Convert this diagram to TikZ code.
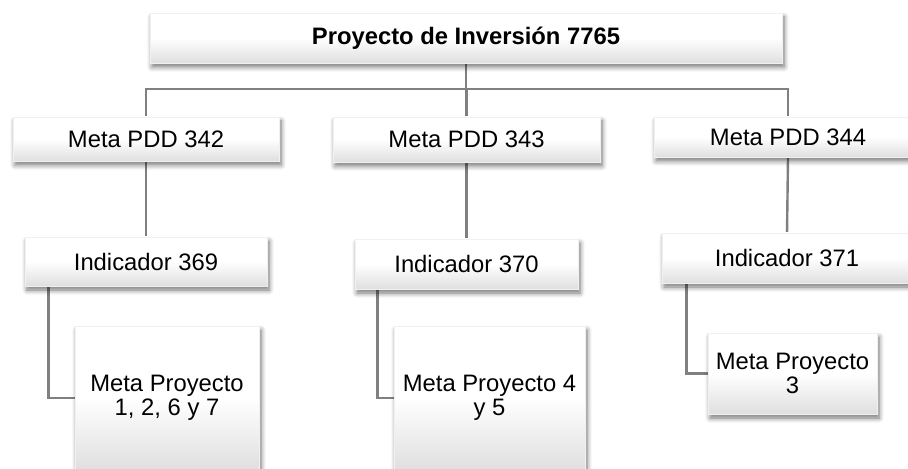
\documentclass[tikz,border=0pt]{standalone}
\usepackage{fontspec}
\setmainfont{Liberation Sans}
\usetikzlibrary{shadows.blur,backgrounds}

\begin{document}
\begin{tikzpicture}
    [ x=0.5pt, y=-0.5pt,
      goalBox/.style={draw=gray!12, top color=white, bottom color=gray!25, middle color=white,
                      align=center, inner sep=0pt,
                      blur shadow={shadow xshift=1pt, shadow yshift=-2pt, shadow opacity=55, shadow blur steps=6}},
      titleBox/.style={goalBox, font=\bfseries},
      treeLine/.style={draw=gray, line width=1.2pt}]

  \fontsize{11.9}{12.2}\selectfont%
  \useasboundingbox (0,0) rectangle (908,469);
  \clip (0,0) rectangle (908,469);

%%%%%%%%%%%%%%%%%%%%%%%%%%%%%%%%%%%%%%%%%%%%%%%%%%%%%%%%%%%%%%%%%%%%%%%%%%%%%%%%%%%%%%%%%%%%%%%%%%%%%%%%%%
%top level and goals

	  \node[titleBox, minimum width=316pt, minimum height=25pt] (proy) at (466,38) {Proyecto de Inversión 7765};

	  \node[goalBox, minimum width=133pt, minimum height=22pt] (m342) at (146,139) {Meta PDD 342};
	  \node[goalBox, minimum width=133.5pt, minimum height=22.5pt] (m343) at (466.5,139.5) {Meta PDD 343};
	  \node[goalBox, minimum width=134pt, minimum height=20pt] (m344) at (788,137) {Meta PDD 344};

	  \coordinate (bar) at (0,89);

%%%%%%%%%%%%%%%%%%%%%%%%%%%%%%%%%%%%%%%%%%%%%%%%%%%%%%%%%%%%%%%%%%%%%%%%%%%%%%%%%%%%%%%%%%%%%%%%%%%%%%%%%%
%indicators and project goals

	  \node[goalBox, minimum width=121pt, minimum height=24.5pt] (i369) at (146,261.5) {Indicador 369};
	  \node[goalBox, minimum width=111.5pt, minimum height=25pt] (i370) at (466.5,264) {Indicador 370};
	  \node[goalBox, minimum width=125pt, minimum height=25pt] (i371) at (787,258) {Indicador 371};

	  \node[goalBox, minimum width=92pt, minimum height=72pt] (mp1) at (167,398) {Meta Proyecto\\1, 2, 6 y 7};
	  \node[goalBox, minimum width=95.5pt, minimum height=72pt] (mp2) at (489.5,398) {Meta Proyecto 4\\y 5};
	  \node[goalBox, minimum width=84.5pt, minimum height=40.5pt] (mp3) at (792.5,373.5) {Meta Proyecto\\3};

%%%%%%%%%%%%%%%%%%%%%%%%%%%%%%%%%%%%%%%%%%%%%%%%%%%%%%%%%%%%%%%%%%%%%%%%%%%%%%%%%%%%%%%%%%%%%%%%%%%%%%%%%%
%tree lines
  \begin{pgfonlayer}{background}
	  \draw[treeLine] (proy.south) -- (proy.south |- bar);
	  \draw[treeLine] (m342.north) -- (m342.north |- bar) -| (m344.north);
	  \draw[treeLine] (m343.north) -- (m343.north |- bar);

	  \draw[treeLine] (m342.south) -- (i369.north);
	  \draw[treeLine] (m343.south) -- (i370.north);
	  \draw[treeLine] (m344.south) -- (i371.north);

	  \draw[treeLine] ([xshift=12pt]i369.south west) |- (mp1.west);
	  \draw[treeLine] ([xshift=11.5pt]i370.south west) |- (mp2.west);
	  \draw[treeLine] ([xshift=12.5pt]i371.south west) |- (mp3.west);
  \end{pgfonlayer}

\end{tikzpicture}
\end{document}
